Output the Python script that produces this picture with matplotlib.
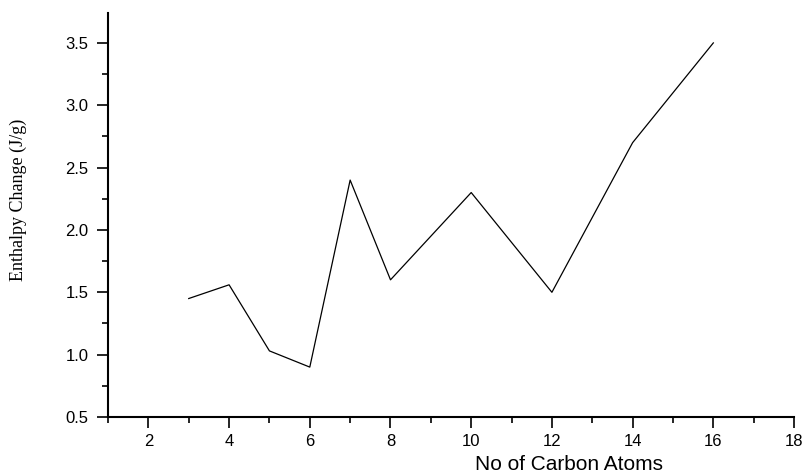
import numpy as np
import matplotlib.pyplot as plt
from matplotlib.ticker import MultipleLocator

carbons = [3, 4, 5, 6, 7, 8, 10, 12, 14, 16]
enthalpy = [1.45, 1.56, 1.03, 0.90, 2.40, 1.60, 2.30, 1.50, 2.70, 3.50]

fig = plt.figure(figsize=(8.08, 4.74), dpi=100)
ax = fig.add_axes([0.1337, 0.1203, 0.849, 0.8523])

ax.plot(carbons, enthalpy, color="black", lw=0.9)

ax.set_xlim(1, 18)
ax.set_ylim(0.5, 3.74)
ax.xaxis.set_major_locator(MultipleLocator(2))
ax.xaxis.set_minor_locator(MultipleLocator(1))
ax.yaxis.set_major_locator(MultipleLocator(0.5))
ax.yaxis.set_minor_locator(MultipleLocator(0.25))
ax.yaxis.set_major_formatter(plt.FormatStrFormatter("%.1f"))

for s in ["top", "right"]:
	ax.spines[s].set_visible(False)
for s in ["left", "bottom"]:
	ax.spines[s].set_linewidth(1.5)

ax.tick_params(which="major", direction="out", length=8, width=1.2,
	labelsize=12, labelfontfamily="Liberation Sans")
ax.tick_params(which="minor", direction="out", length=4.5, width=1.2)
ax.tick_params(axis="x", which="both", pad=4)
ax.tick_params(axis="y", which="both", pad=6)

ax.set_xlabel("No of Carbon Atoms", fontsize=15, family="Liberation Sans")
ax.xaxis.set_label_coords(0.672, -0.095)
ax.set_ylabel("Enthalpy Change (J/g)", fontsize=13, family="Liberation Serif")
ax.yaxis.set_label_coords(-0.118, 0.537)

fig.savefig("out.png", dpi=100)
